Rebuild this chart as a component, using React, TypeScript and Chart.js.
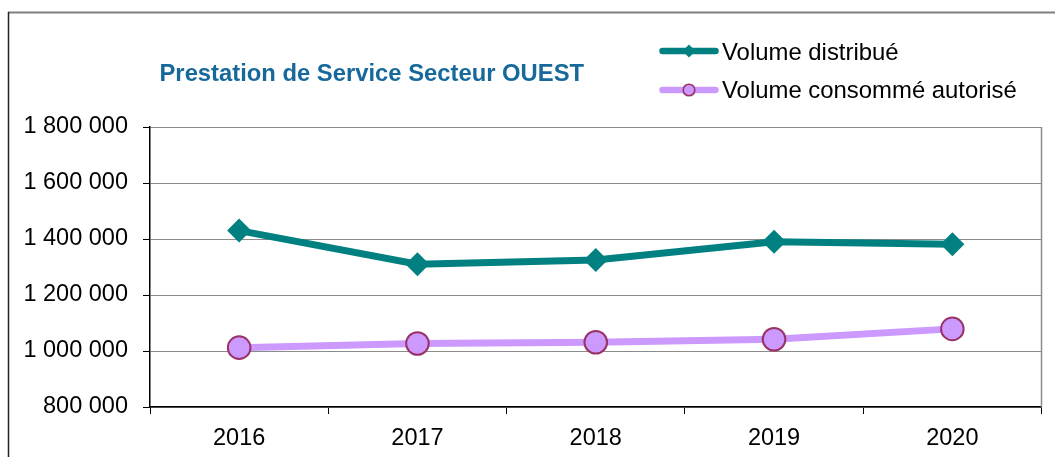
import React, { useEffect, useRef } from "react";
import { Chart, registerables } from "chart.js";

Chart.register(...registerables);

const categories = ["2016", "2017", "2018", "2019", "2020"];
const volumeDistribue = [1430000, 1310000, 1325000, 1390000, 1381000];
const volumeConsomme = [1012000, 1027000, 1031000, 1042000, 1079000];
const seriesNames = ["Volume distribué", "Volume consommé autorisé"];
const titleText = "Prestation de Service Secteur OUEST";
const yMin = 800000;
const yMax = 1800000;
const yStep = 200000;

const FONT = "'Liberation Sans', Arial, sans-serif";
const TEAL = "#008080";
const LAVENDER = "#CC99FF";
const PLUM = "#993366";

const formatNumber = (v: number) =>
  String(Math.round(v)).replace(/\B(?=(\d{3})+(?!\d))/g, " ");

const framePlugin = {
  id: "frame",
  beforeDraw(chart: any) {
    const ctx = chart.ctx;
    ctx.save();
    ctx.fillStyle = "#ffffff";
    ctx.fillRect(0, 0, chart.width, chart.height);
    ctx.strokeStyle = "#7f7f7f";
    ctx.lineWidth = 2;
    ctx.beginPath();
    ctx.moveTo(8, 12.5);
    ctx.lineTo(chart.width, 12.5);
    ctx.stroke();
    ctx.strokeStyle = "#222222";
    ctx.lineWidth = 1.5;
    ctx.beginPath();
    ctx.moveTo(8.5, 12);
    ctx.lineTo(8.5, chart.height);
    ctx.stroke();
    ctx.restore();
  },
  beforeDatasetsDraw(chart: any) {
    const { ctx, chartArea } = chart;
    ctx.save();
    ctx.strokeStyle = "#8c8c8c";
    ctx.lineWidth = 1.5;
    ctx.beginPath();
    ctx.moveTo(chartArea.right, chartArea.top);
    ctx.lineTo(chartArea.right, chartArea.bottom);
    ctx.stroke();
    ctx.restore();
  },
};

function LegendMarker({ kind }: { kind: "diamond" | "circle" }) {
  return (
    <svg width={60} height={16} style={{ display: "block" }}>
      <line
        x1={3.5}
        y1={8}
        x2={56.5}
        y2={8}
        stroke={kind === "diamond" ? TEAL : LAVENDER}
        strokeWidth={6.5}
        strokeLinecap="round"
      />
      {kind === "diamond" ? (
        <polygon points="30,1.5 36.5,8 30,14.5 23.5,8" fill={TEAL} />
      ) : (
        <circle cx={30} cy={8} r={5.8} fill={LAVENDER} stroke={PLUM} strokeWidth={1.6} />
      )}
    </svg>
  );
}

export default function App() {
  const canvasRef = useRef<HTMLCanvasElement | null>(null);

  useEffect(() => {
    if (!canvasRef.current) return;
    const chart = new Chart(canvasRef.current, {
      type: "line",
      data: {
        labels: categories,
        datasets: [
          {
            label: seriesNames[0],
            data: volumeDistribue,
            borderColor: TEAL,
            backgroundColor: TEAL,
            borderWidth: 7,
            pointStyle: "rectRot",
            pointRadius: 12,
            pointBackgroundColor: TEAL,
            pointBorderColor: TEAL,
            pointBorderWidth: 0,
            tension: 0,
          },
          {
            label: seriesNames[1],
            data: volumeConsomme,
            borderColor: LAVENDER,
            backgroundColor: LAVENDER,
            borderWidth: 7,
            pointStyle: "circle",
            pointRadius: 11.3,
            pointBackgroundColor: LAVENDER,
            pointBorderColor: PLUM,
            pointBorderWidth: 2,
            tension: 0,
          },
        ],
      },
      options: {
        responsive: false,
        animation: false,
        devicePixelRatio: 1,
        layout: { padding: { left: 0, right: 13.5, top: 127, bottom: 0 } },
        plugins: {
          legend: { display: false },
          title: { display: false },
          tooltip: { enabled: false },
        },
        scales: {
          x: {
            type: "category",
            offset: true,
            grid: {
              offset: true,
              drawOnChartArea: false,
              drawTicks: true,
              tickLength: 7,
              color: "#000000",
              tickColor: "#000000",
              lineWidth: 1,
            },
            border: { display: true, color: "#000000", width: 1.5 },
            ticks: {
              color: "#000000",
              font: { family: FONT, size: 23.5 },
              padding: 10,
              maxRotation: 0,
            },
            afterFit: (s: any) => {
              s.height = 50;
            },
          },
          y: {
            min: yMin,
            max: yMax,
            ticks: {
              stepSize: yStep,
              color: "#000000",
              font: { family: FONT, size: 23.5 },
              padding: 15,
              callback: (v: any) => formatNumber(Number(v)),
            },
            grid: {
              color: "#8c8c8c",
              tickColor: "#000000",
              lineWidth: 1,
              drawTicks: true,
              tickLength: 7,
            },
            border: { display: true, color: "#000000", width: 1.5 },
            afterFit: (s: any) => {
              s.width = 150;
            },
          },
        },
      },
      plugins: [framePlugin],
    } as any);
    return () => chart.destroy();
  }, []);

  const textBase: React.CSSProperties = {
    position: "absolute",
    fontFamily: FONT,
    whiteSpace: "nowrap",
    lineHeight: "24px",
  };

  return (
    <div style={{ position: "absolute", left: 0, top: 0, width: 1055, height: 457, overflow: "hidden", background: "#fff" }}>
      <canvas ref={canvasRef} width={1055} height={457} style={{ width: 1055, height: 457, display: "block" }} />
      <div style={{ ...textBase, left: 159.5, top: 60.5, fontSize: 23.8, fontWeight: "bold", color: "#17699c" }}>{titleText}</div>
      <div style={{ position: "absolute", left: 659, top: 43 }}>
        <LegendMarker kind="diamond" />
      </div>
      <div style={{ ...textBase, left: 722, top: 39.5, fontSize: 23.9, color: "#000" }}>{seriesNames[0]}</div>
      <div style={{ position: "absolute", left: 659, top: 81.5 }}>
        <LegendMarker kind="circle" />
      </div>
      <div style={{ ...textBase, left: 722, top: 78, fontSize: 23.9, color: "#000" }}>{seriesNames[1]}</div>
    </div>
  );
}
